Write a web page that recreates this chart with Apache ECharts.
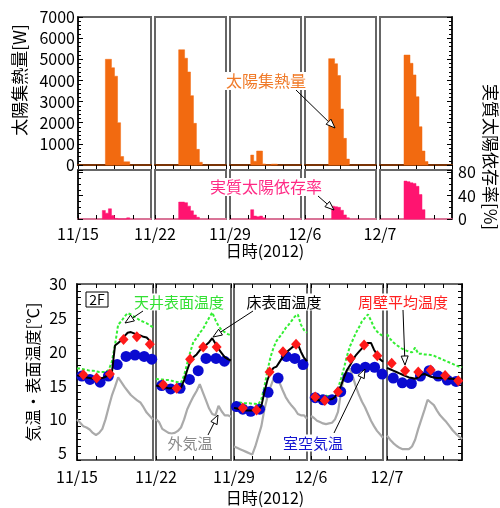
<!DOCTYPE html>
<html>
<head>
<meta charset="utf-8">
<script src="https://cdn.jsdelivr.net/npm/echarts@6/dist/echarts.min.js"></script>
<style>
  html, body { margin: 0; padding: 0; background: #fff; }
  #main { width: 500px; height: 508px; }
</style>
</head>
<body>
<div id="main"></div>
<script>
/* ===== data ===== */
const dates = ['11/15', '11/22', '11/29', '12/6', '12/7'];
const hours = Array.from({ length: 25 }, (_, h) => h);

// solar heat collected [W], hourly bars, first hour of each panel
const solarStart = [9, 8, 7, 8, 8];
const solarHeat = [
  [5000, 5000, 4600, 4200, 2000, 400, 150, 150],
  [5450, 5450, 5050, 4400, 3280, 1970, 740, 130],
  [470, 180, 660, 660, 50, 0, 0, 40, 40],
  [5030, 5030, 4790, 4230, 2650, 1260, 280],
  [5200, 5200, 4810, 4260, 3230, 1810, 660, 160]
];

// effective solar dependency [%]
const rateStart = [8, 8, 7, 9, 8];
const solarRate = [
  [14.6, 10, 17.5, 6, 1, 0, 0, 0, 2],
  [29, 29, 28, 22, 14, 7, 3],
  [16, 5, 4, 5, 2],
  [22, 21, 20, 15, 7, 2],
  [65, 64, 62, 61, 56, 42, 16]
];

// hourly temperatures 0..24 h
const outdoorT = [
  [10.0, 9.5, 9.0, 8.8, 8.5, 8.0, 7.7, 8.0, 8.6, 10.0, 11.8, 13.5, 14.8, 16.2, 15.5, 14.8, 14.2, 13.6, 13.2, 12.8, 12.5, 11.8, 11.0, 10.5, 10.0],
  [10.0, 9.6, 8.6, 8.3, 8.0, 7.9, 8.0, 8.3, 8.8, 10.0, 11.5, 12.5, 13.4, 14.2, 15.2, 14.0, 12.8, 11.6, 10.8, 10.6, 12.0, 11.2, 10.6, 10.6, 10.4],
  [6.0, 5.8, 5.6, 5.4, 5.2, 5.0, 4.8, 6.0, 7.5, 9.0, 11.5, 13.3, 14.8, 16.0, 16.6, 15.4, 14.3, 13.3, 12.6, 12.0, 11.5, 10.8, 10.6, 10.6, 10.1],
  [10.5, 10.2, 9.8, 9.6, 9.4, 9.3, 9.4, 9.5, 10.0, 11.1, 14.0, 16.5, 17.2, 17.5, 16.2, 14.8, 13.6, 12.6, 11.8, 10.8, 9.8, 9.0, 8.3, 7.8, 7.3],
  [7.6, 7.0, 6.5, 6.1, 5.8, 5.6, 5.6, 5.6, 6.0, 7.0, 8.6, 10.0, 11.4, 12.9, 12.5, 12.1, 11.3, 10.6, 10.1, 9.6, 9.0, 8.4, 7.9, 7.5, 7.1]
];
const ceilingT = [
  [17.5, 17.5, 17.4, 17.3, 17.2, 17.2, 17.1, 17.0, 17.0, 17.0, 17.3, 18.5, 21.0, 24.0, 24.5, 25.2, 25.7, 25.5, 25.2, 24.9, 24.6, 24.4, 24.2, 23.9, 23.6],
  [16.0, 15.9, 15.9, 15.8, 15.8, 15.7, 15.6, 15.5, 15.4, 16.5, 18.3, 20.0, 21.5, 22.0, 22.8, 23.3, 24.2, 25.0, 25.8, 24.7, 23.8, 23.2, 22.9, 22.6, 22.4],
  [12.5, 12.5, 12.5, 12.4, 12.4, 12.4, 12.3, 12.3, 12.2, 13.0, 14.8, 17.2, 19.2, 20.6, 21.6, 22.2, 22.8, 23.5, 24.0, 24.6, 25.2, 25.5, 24.0, 23.2, 22.8],
  [13.6, 13.6, 13.5, 13.5, 13.5, 13.5, 13.4, 13.4, 13.8, 14.6, 16.0, 17.6, 19.4, 20.8, 21.8, 22.8, 23.6, 24.5, 25.0, 25.5, 24.6, 23.6, 23.0, 22.6, 22.3],
  [22.6, 21.9, 21.4, 21.0, 20.7, 20.4, 20.2, 20.0, 19.9, 20.6, 19.7, 19.7, 19.6, 19.6, 19.5, 19.4, 19.2, 19.0, 18.8, 18.6, 18.4, 18.2, 18.0, 17.8, 17.7]
];
const floorT = [
  [16.5, 16.4, 16.3, 16.2, 16.1, 16.0, 16.0, 16.0, 16.1, 16.3, 16.5, 16.8, 20.9, 21.3, 21.7, 22.3, 22.8, 22.9, 22.7, 22.5, 22.4, 22.2, 22.1, 21.6, 21.1],
  [15.0, 14.9, 14.8, 14.7, 14.6, 14.6, 14.5, 14.5, 14.7, 15.8, 17.3, 18.6, 19.2, 19.6, 20.2, 20.6, 21.0, 21.4, 22.0, 21.2, 20.4, 19.8, 19.2, 18.9, 18.7],
  [11.7, 11.6, 11.5, 11.4, 11.3, 11.3, 11.3, 11.4, 11.5, 12.0, 14.0, 15.8, 17.0, 17.6, 17.8, 18.5, 19.2, 19.8, 20.2, 20.6, 20.9, 21.1, 20.0, 19.1, 18.6],
  [13.1, 13.0, 12.9, 12.8, 12.8, 12.8, 12.9, 13.0, 13.3, 14.0, 15.0, 16.2, 17.3, 18.0, 18.8, 19.5, 20.0, 20.5, 21.0, 21.3, 21.3, 20.3, 19.6, 18.9, 18.5],
  [17.6, 17.4, 17.2, 17.0, 16.8, 16.6, 16.4, 16.2, 16.1, 16.0, 16.2, 16.6, 16.7, 16.5, 16.3, 16.2, 16.1, 16.1, 16.1, 16.1, 16.0, 16.0, 15.9, 15.8, 15.8]
];

// room air temperature (markers)
const airHours = [
  [1.5, 4.1, 7.3, 9.9, 12.7, 15.5, 18.3, 21.2, 23.6],
  [1.8, 4.7, 7.7, 10.7, 13.5, 16.0, 19.2, 21.9],
  [0.8, 2.9, 5.5, 8.4, 11.2, 14.5, 17.2, 20.0, 22.7],
  [1.4, 4.0, 7.0, 9.9, 12.3, 15.1, 18.1, 21.2, 23.7],
  [2.0, 4.9, 7.8, 10.7, 13.5, 16.4, 19.3, 22.1]
];
const airT = [
  [16.4, 15.9, 15.5, 16.4, 18.1, 19.3, 19.5, 19.3, 18.9],
  [15.0, 14.5, 14.6, 15.9, 17.2, 19.0, 19.0, 18.6],
  [11.9, 11.5, 11.2, 11.5, 14.0, 16.1, 19.3, 19.0, 18.1],
  [13.2, 12.9, 12.9, 14.1, 16.2, 17.5, 17.7, 17.7, 16.7],
  [16.1, 15.4, 15.3, 16.4, 17.2, 16.4, 15.8, 15.6]
];

// mean wall temperature (markers)
const wallHours = [
  [2.0, 6.2, 10.4, 14.7, 18.9, 23.0],
  [2.3, 6.6, 10.9, 15.1, 19.4],
  [2.9, 7.4, 11.7, 16.1, 20.4],
  [1.4, 4.6, 9.0, 13.2, 17.7, 22.1],
  [1.5, 5.8, 10.0, 14.0, 18.6, 22.8]
];
const wallT = [
  [16.6, 16.1, 16.7, 21.8, 22.2, 21.1],
  [15.1, 14.6, 18.9, 20.7, 20.7],
  [11.7, 11.4, 17.0, 20.0, 21.1],
  [13.3, 12.8, 14.1, 19.0, 21.0, 19.4],
  [18.3, 17.2, 17.0, 17.3, 16.5, 15.7]
];

/* ===== layout ===== */
const FONT = '"Noto Sans CJK JP", "Noto Sans", sans-serif';
const leftsA = [78, 155, 230, 305, 380], widthsA = [73, 71, 71, 71, 72];   // rows 1-2
const leftsB = [77, 156, 234, 311, 387], widthsB = [76, 75, 73, 72, 75];   // row 3
const rowA = i => ({ left: leftsA[i], width: widthsA[i] });
const rowB = i => ({ left: leftsB[i], width: widthsB[i] });

const grid = [], xAxis = [], yAxis = [], series = [];

function addGrid(pos, top, height) {
  grid.push({
    left: pos.left, width: pos.width, top: top, height: height,
    show: true, borderColor: '#666', borderWidth: 2, backgroundColor: '#fff'
  });
  return grid.length - 1;
}
const pair = (hs, vs) => hs.map((h, k) => [h, vs[k]]);
const off = { show: false };
const lbl = (size) => ({ fontFamily: FONT, fontSize: size, color: '#000' });
const tickIn = { show: true, inside: true, length: 4, lineStyle: { color: '#000' } };

// hourly histogram of one panel as one filled step outline (custom series)
function histSeries(xi, yi, start, vals, color) {
  return {
    type: 'custom', xAxisIndex: xi, yAxisIndex: yi, z: 1, silent: true,
    data: vals.map((v, k) => [start + k, v]),
    renderItem: function (params, api) {
      if (params.dataIndex !== 0) return null;
      const pts = [api.coord([start, 0])];
      vals.forEach((v, k) => {
        pts.push(api.coord([start + k, v]));
        pts.push(api.coord([start + k + 1, v]));
      });
      pts.push(api.coord([start + vals.length, 0]));
      return {
        type: 'polygon', shape: { points: pts },
        style: { fill: color, stroke: color, lineWidth: 0.5 }
      };
    }
  };
}

function hourAxis(g, lineStyle, ticks, dateIdx, margin) {
  const xi = xAxis.length;
  xAxis.push({
    gridIndex: g, type: 'value', min: 0, max: 24, interval: 6, position: 'bottom',
    axisLine: lineStyle ? { show: true, onZero: false, lineStyle: lineStyle } : off,
    axisTick: ticks ? tickIn : off,
    axisLabel: dateIdx === null ? off : Object.assign({
      show: true, margin: margin, showMaxLabel: false,
      formatter: (v) => (v === 0 ? dates[dateIdx] : '')
    }, lbl(16)),
    splitLine: off, minorSplitLine: off
  });
  return xi;
}
function topTicks(g) {
  xAxis.push({
    gridIndex: g, type: 'value', min: 0, max: 24, interval: 6, position: 'top',
    axisLine: off, axisLabel: off, splitLine: off, minorSplitLine: off, axisTick: tickIn
  });
}
function valueAxis(g, i, min, max, interval, extra) {
  const outer = i === 0 || i === 4;
  yAxis.push(Object.assign({
    gridIndex: g, type: 'value', min: min, max: max, interval: interval,
    position: i === 4 ? 'right' : 'left',
    axisLine: { show: outer, onZero: false, lineStyle: { color: '#000', width: 1.5 } },
    axisTick: { show: outer, inside: true, length: 5, lineStyle: { color: '#000' } },
    splitLine: off, minorSplitLine: off
  }, extra));
  return yAxis.length - 1;
}

for (let i = 0; i < 5; i++) {
  const outer = i === 0 || i === 4;

  /* ----- row 1 : solar heat ----- */
  let g = addGrid(rowA(i), 17, 148);
  let xi = hourAxis(g, { color: '#7a3406', width: 2 }, false, null, 0);
  topTicks(g);
  let yi = valueAxis(g, i, 0, 7000, 1000, {
    minorTick: { show: outer, splitNumber: 5, length: 3, lineStyle: { color: '#000' } },
    axisLabel: Object.assign({ show: i === 0, margin: 3, formatter: v => String(v) }, lbl(16))
  });
  series.push(histSeries(xi, yi, solarStart[i], solarHeat[i], '#f26a10'));

  /* ----- row 2 : solar dependency ----- */
  g = addGrid(rowA(i), 170, 49);
  xi = hourAxis(g, { color: '#ff7aa8', width: 1.5 }, true, i, 7);
  yi = valueAxis(g, i, 0, 84, 40, {
    minorTick: { show: outer, splitNumber: 4, length: 3, lineStyle: { color: '#000' } },
    axisLabel: Object.assign({ show: i === 4, margin: 6, showMaxLabel: false }, lbl(16))
  });
  series.push(histSeries(xi, yi, rateStart[i], solarRate[i], '#ff1470'));

  /* ----- row 3 : temperatures ----- */
  g = addGrid(rowB(i), 284, 176);
  xi = hourAxis(g, null, true, i, 9);
  topTicks(g);
  yi = valueAxis(g, i, 4, 30, 1, {
    axisTick: { show: outer, inside: true, length: 4, lineStyle: { color: '#000' } },
    axisLabel: Object.assign({ show: i === 0, margin: 10, customValues: [5, 10, 15, 20, 25, 30] }, lbl(16))
  });
  series.push({
    type: 'line', xAxisIndex: xi, yAxisIndex: yi, z: 1,
    data: pair(hours, outdoorT[i]), symbol: 'none',
    lineStyle: { color: '#aaaaaa', width: 2.2 }, silent: true
  });
  series.push({
    type: 'line', xAxisIndex: xi, yAxisIndex: yi, z: 2,
    data: pair(hours, ceilingT[i]), symbol: 'none',
    lineStyle: { color: '#33ee33', width: 2, type: [3, 2] }, silent: true
  });
  series.push({
    type: 'scatter', xAxisIndex: xi, yAxisIndex: yi, z: 3,
    data: pair(airHours[i], airT[i]), symbol: 'circle', symbolSize: 11,
    itemStyle: { color: '#0a0ad0', opacity: 1 }, silent: true
  });
  series.push({
    type: 'line', xAxisIndex: xi, yAxisIndex: yi, z: 4,
    data: pair(hours, floorT[i]), symbol: 'none',
    lineStyle: { color: '#000', width: 2 }, silent: true
  });
  series.push({
    type: 'scatter', xAxisIndex: xi, yAxisIndex: yi, z: 5,
    data: pair(wallHours[i], wallT[i]), symbol: 'diamond', symbolSize: [10, 11],
    itemStyle: { color: '#ff1a1a', opacity: 1 }, silent: true
  });
}

/* ===== annotations ===== */
function text(str, x, y, color, size, rot, bg) {
  return {
    type: 'text', x: x, y: y, rotation: rot || 0, z: 100,
    style: {
      text: str, fill: color, font: size + 'px ' + FONT,
      align: 'center', verticalAlign: 'middle',
      backgroundColor: bg ? '#fff' : null, padding: bg ? [1, 2] : 0
    }
  };
}
function arrow(x1, y1, x2, y2) {
  const a = Math.atan2(y2 - y1, x2 - x1), L = 9, W = 3.5;
  const c = Math.cos(a), s = Math.sin(a);
  const bx = x2 - L * c, by = y2 - L * s;
  return [
    { type: 'line', z: 101, shape: { x1: x1, y1: y1, x2: bx, y2: by }, style: { stroke: '#000', lineWidth: 1 } },
    { type: 'polygon', z: 101,
      shape: { points: [[x2, y2], [bx + W * s, by - W * c], [bx - W * s, by + W * c]] },
      style: { fill: '#fff', stroke: '#000', lineWidth: 1 } }
  ];
}

const graphic = [
  text('太陽集熱量[W]', 20, 80, '#000', 17, Math.PI / 2),
  text('実質太陽依存率[%]', 490, 157, '#000', 17, -Math.PI / 2),
  text('気温・表面温度[℃]', 33, 372, '#000', 16, Math.PI / 2),
  text('日時(2012)', 265, 251, '#000', 16),
  text('日時(2012)', 265, 498, '#000', 16),
  text('太陽集熱量', 266, 81, '#f07a28', 16, 0, true),
  text('実質太陽依存率', 266, 187, '#ff2a85', 16, 0, true),
  text('天井表面温度', 179, 302, '#33e033', 15, 0, true),
  text('床表面温度', 284, 302, '#000', 15, 0, true),
  text('周壁平均温度', 403, 302, '#ff2020', 15, 0, true),
  text('外気温', 190, 443, '#888', 15, 0, true),
  text('室空気温', 313, 443, '#1414d0', 15, 0, true),
  { type: 'rect', z: 100, shape: { x: 86, y: 292, width: 22, height: 15 },
    style: { fill: '#fff', stroke: '#000', lineWidth: 1 } },
  text('2F', 97, 299.5, '#000', 14)
].concat(
  arrow(296, 90, 335, 128),
  arrow(318, 196, 334, 210),
  arrow(143, 311, 125, 323),
  arrow(253, 311, 213, 337),
  arrow(403, 310, 405, 365),
  arrow(208, 435, 218, 415),
  arrow(334, 433, 365, 369)
);

const chart = echarts.init(document.getElementById('main'));
chart.setOption({
  animation: false,
  backgroundColor: '#fff',
  grid: grid,
  xAxis: xAxis,
  yAxis: yAxis,
  series: series,
  graphic: graphic
});
</script>
</body>
</html>
